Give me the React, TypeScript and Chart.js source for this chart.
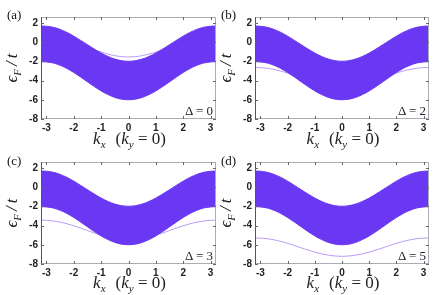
import React, { useEffect, useRef } from "react";
import Chart from "chart.js/auto";

const KX = [-3.2, -3, -2.75, -2.5, -2.25, -2, -1.75, -1.5, -1.25, -1, -0.75, -0.5, -0.25, 0, 0.25, 0.5, 0.75, 1, 1.25, 1.5, 1.75, 2, 2.25, 2.5, 2.75, 3, 3.2];

const BAND_TOP = [1.66, 1.64, 1.53, 1.31, 1.00, 0.61, 0.17, -0.28, -0.73, -1.15, -1.50, -1.77, -1.94, -2.00, -1.94, -1.77, -1.50, -1.15, -0.73, -0.28, 0.17, 0.61, 1.00, 1.31, 1.53, 1.64, 1.66];
const BAND_BOTTOM = [-2.05, -2.07, -2.18, -2.42, -2.75, -3.17, -3.64, -4.14, -4.63, -5.08, -5.46, -5.76, -5.94, -6.00, -5.94, -5.76, -5.46, -5.08, -4.63, -4.14, -3.64, -3.17, -2.75, -2.42, -2.18, -2.07, -2.05];

const EDGE_A = [0.65, 0.64, 0.57, 0.43, 0.24, 0.01, -0.25, -0.53, -0.80, -1.04, -1.25, -1.42, -1.52, -1.55, -1.52, -1.42, -1.25, -1.04, -0.80, -0.53, -0.25, 0.01, 0.24, 0.43, 0.57, 0.64, 0.65];
const EDGE_B = [-2.65, -2.66, -2.73, -2.85, -3.02, -3.23, -3.47, -3.72, -3.97, -4.19, -4.38, -4.53, -4.62, -4.65, -4.62, -4.53, -4.38, -4.19, -3.97, -3.72, -3.47, -3.23, -3.02, -2.85, -2.73, -2.66, -2.65];
const EDGE_C = [-3.45, -3.46, -3.53, -3.65, -3.82, -4.03, -4.27, -4.52, -4.77, -4.99, -5.18, -5.33, -5.42, -5.45, -5.42, -5.33, -5.18, -4.99, -4.77, -4.52, -4.27, -4.03, -3.82, -3.65, -3.53, -3.46, -3.45];
const EDGE_D = [-5.30, -5.31, -5.37, -5.49, -5.65, -5.85, -6.08, -6.32, -6.55, -6.76, -6.95, -7.08, -7.17, -7.20, -7.17, -7.08, -6.95, -6.76, -6.55, -6.32, -6.08, -5.85, -5.65, -5.49, -5.37, -5.31, -5.30];

const DELTAS = ["0", "2", "3", "5"];
const PANEL_LABELS = ["(a)", "(b)", "(c)", "(d)"];
const X_TICKS = [-3, -2, -1, 0, 1, 2, 3];
const Y_TICKS = [-8, -6, -4, -2, 0, 2];

const BAND_COLOR = "#6a38f2";
const EDGE_COLOR = "#b99af5";
const SERIF = "'Liberation Serif', 'DejaVu Serif', serif";

const frameTicks = {
  id: "frameTicks",
  afterDatasetsDraw(chart: any) {
    const { ctx, chartArea: a, scales } = chart;
    const xs = scales.x, ys = scales.y;
    ctx.save();
    ctx.lineWidth = 1;
    ctx.strokeStyle = "#a9adb5";
    ctx.beginPath();
    ctx.moveTo(a.left, a.top + 0.5);
    ctx.lineTo(a.right, a.top + 0.5);
    ctx.moveTo(a.right - 0.5, a.top);
    ctx.lineTo(a.right - 0.5, a.bottom);
    ctx.moveTo(a.left, a.bottom - 0.5);
    ctx.lineTo(a.right, a.bottom - 0.5);
    ctx.stroke();
    ctx.strokeStyle = "#555";
    ctx.beginPath();
    ctx.moveTo(a.left + 0.5, a.top);
    ctx.lineTo(a.left + 0.5, a.bottom);
    ctx.stroke();
    ctx.strokeStyle = "#666";
    ctx.beginPath();
    const tl = 3;
    for (const v of X_TICKS) {
      const px = Math.round(xs.getPixelForValue(v)) + 0.5;
      ctx.moveTo(px, a.top);
      ctx.lineTo(px, a.top + tl);
      ctx.moveTo(px, a.bottom);
      ctx.lineTo(px, a.bottom - tl);
    }
    for (const v of Y_TICKS) {
      const py = Math.round(ys.getPixelForValue(v)) + 0.5;
      ctx.moveTo(a.left, py);
      ctx.lineTo(a.left + tl, py);
      ctx.moveTo(a.right, py);
      ctx.lineTo(a.right - tl, py);
    }
    ctx.stroke();
    ctx.restore();
  },
};

function pts(ys: number[]) {
  return KX.map((x, i) => ({ x, y: ys[i] }));
}

type PanelProps = {
  left: number;
  top: number;
  width: number;
  height: number;
  rightPad: number;
  xHeight: number;
  edge: number[];
};

function Panel({ left, top, width, height, rightPad, xHeight, edge }: PanelProps) {
  const ref = useRef<HTMLCanvasElement | null>(null);
  useEffect(() => {
    if (!ref.current) return;
    const tickFont = { family: "'Liberation Sans', Arial, sans-serif", size: 10, weight: "bold" as const };
    const chart = new Chart(ref.current, {
      type: "line",
      data: {
        datasets: [
          {
            data: pts(BAND_TOP),
            borderColor: BAND_COLOR,
            backgroundColor: BAND_COLOR,
            borderWidth: 1,
            pointRadius: 0,
            tension: 0.3,
            fill: "+1",
          },
          {
            data: pts(BAND_BOTTOM),
            borderColor: BAND_COLOR,
            backgroundColor: BAND_COLOR,
            borderWidth: 1,
            pointRadius: 0,
            tension: 0.3,
            fill: false,
          },
          {
            data: pts(edge),
            borderColor: EDGE_COLOR,
            borderWidth: 1,
            pointRadius: 0,
            tension: 0.3,
            fill: false,
          },
        ],
      },
      options: {
        animation: false,
        responsive: false,
        maintainAspectRatio: false,
        events: [],
        layout: { padding: { left: 0, right: rightPad, top: 17, bottom: 0 } },
        plugins: { legend: { display: false }, tooltip: { enabled: false } },
        scales: {
          x: {
            type: "linear",
            min: -3.2,
            max: 3.2,
            afterBuildTicks: (s: any) => {
              s.ticks = X_TICKS.map((v) => ({ value: v }));
            },
            afterFit: (s: any) => {
              s.height = xHeight;
            },
            grid: { display: false, drawTicks: false },
            border: { display: false },
            ticks: {
              padding: 3,
              color: "#222",
              font: tickFont,
              maxRotation: 0,
              autoSkip: false,
              callback: (v: any) => String(v),
            },
          },
          y: {
            type: "linear",
            min: -8,
            max: 2.6,
            afterBuildTicks: (s: any) => {
              s.ticks = Y_TICKS.map((v) => ({ value: v }));
            },
            afterFit: (s: any) => {
              s.width = 41;
            },
            grid: { display: false, drawTicks: false },
            border: { display: false },
            ticks: {
              padding: 3,
              color: "#222",
              font: tickFont,
              autoSkip: false,
              callback: (v: any) => String(v),
            },
          },
        },
      },
      plugins: [frameTicks],
    });
    return () => chart.destroy();
  }, []);
  return (
    <canvas
      ref={ref}
      width={width}
      height={height}
      style={{ position: "absolute", left, top, width, height }}
    />
  );
}

const EDGES = [EDGE_A, EDGE_B, EDGE_C, EDGE_D];

export default function App() {
  const cols = [
    { left: 0, width: 218, rightPad: 2, plotL: 41, plotR: 216 },
    { left: 214, width: 222, rightPad: 7, plotL: 255, plotR: 429 },
  ];
  const rows = [
    { top: 0, height: 146, xHeight: 27, plotT: 17, plotB: 119, labelY: 14, xTitleY: 140 },
    { top: 145, height: 150, xHeight: 31, plotT: 162, plotB: 264, labelY: 160, xTitleY: 284 },
  ];
  const subStyle = { fontSize: 11, verticalAlign: "-4px" } as const;
  const items: any[] = [];
  rows.forEach((r, ri) =>
    cols.forEach((c, ci) => {
      const idx = ri * 2 + ci;
      const cx = (c.plotL + c.plotR) / 2;
      const cy = (r.plotT + r.plotB) / 2;
      items.push(
        <React.Fragment key={idx}>
          <Panel
            left={c.left}
            top={r.top}
            width={c.width}
            height={r.height}
            rightPad={c.rightPad}
            xHeight={r.xHeight}
            edge={EDGES[idx]}
          />
          <div
            style={{
              position: "absolute",
              left: c.left + 7,
              top: r.labelY,
              transform: "translateY(-50%)",
              fontFamily: SERIF,
              fontSize: 13,
              color: "#111",
              lineHeight: 1,
            }}
          >
            {PANEL_LABELS[idx]}
          </div>
          <div
            style={{
              position: "absolute",
              left: c.plotL - 28,
              top: cy,
              transform: "translate(-50%,-50%) rotate(-90deg)",
              fontFamily: SERIF,
              fontSize: 17,
              fontStyle: "italic",
              whiteSpace: "nowrap",
              color: "#222",
              lineHeight: 1,
            }}
          >
            {"ϵ"}
            <span style={subStyle}>F</span>
            <span style={{ marginLeft: 3 }}>{"/"}</span>
            <span style={{ marginLeft: 3 }}>{"t"}</span>
          </div>
          <div
            style={{
              position: "absolute",
              left: cx + 1,
              top: r.xTitleY,
              transform: "translate(-50%,-50%)",
              fontFamily: SERIF,
              fontSize: 17,
              whiteSpace: "nowrap",
              color: "#222",
              lineHeight: 1,
            }}
          >
            <i>k</i>
            <i style={subStyle}>x</i>
            <span style={{ marginLeft: 10 }}>{"("}</span>
            <i>k</i>
            <i style={subStyle}>y</i>
            <span>{" = 0)"}</span>
          </div>
          <div
            style={{
              position: "absolute",
              left: c.plotR - 3,
              top: r.plotB - 9,
              transform: "translate(-100%,-50%)",
              fontFamily: SERIF,
              fontSize: 13,
              whiteSpace: "nowrap",
              color: "#222",
              lineHeight: 1,
            }}
          >
            {"Δ = " + DELTAS[idx]}
          </div>
        </React.Fragment>
      );
    })
  );
  return (
    <div style={{ position: "absolute", left: 0, top: 0, width: 436, height: 295, background: "#fff" }}>
      {items}
    </div>
  );
}
